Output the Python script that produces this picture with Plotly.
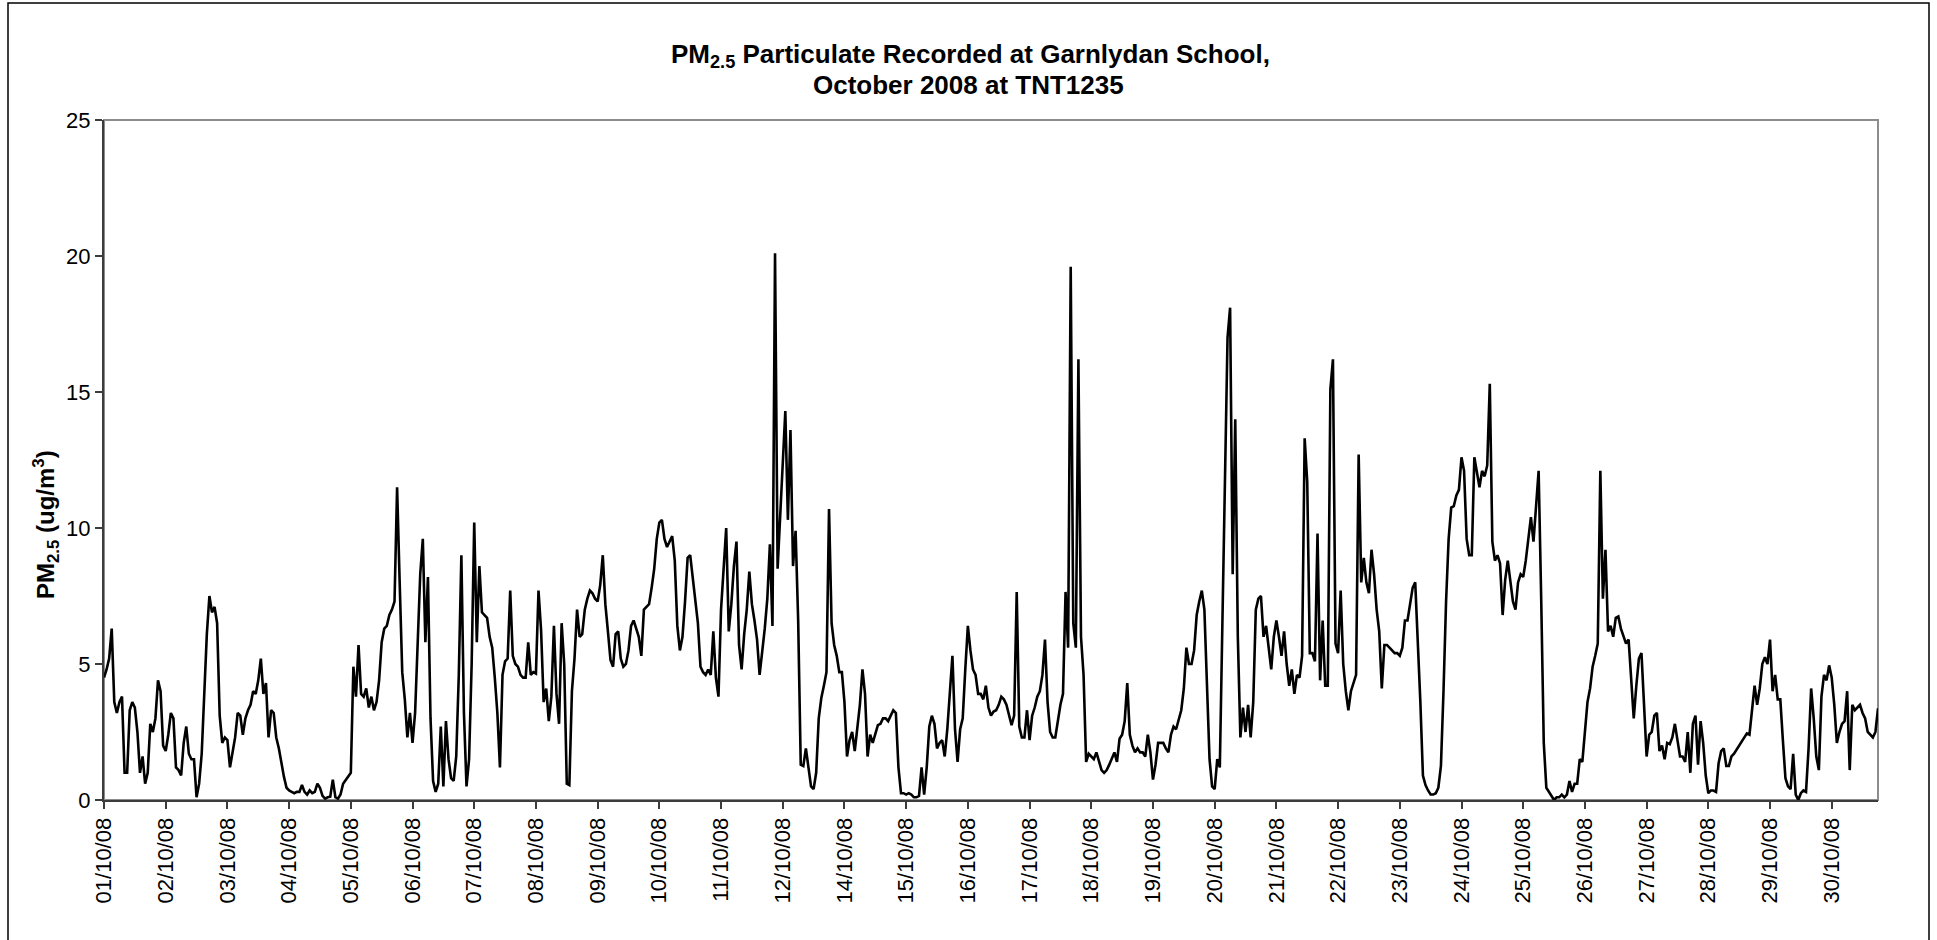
import plotly.graph_objects as go

# Daily category labels on the x axis (no record for 13/10/08)
days = ["01/10/08", "02/10/08", "03/10/08", "04/10/08", "05/10/08", "06/10/08",
        "07/10/08", "08/10/08", "09/10/08", "10/10/08", "11/10/08", "12/10/08",
        "14/10/08", "15/10/08", "16/10/08", "17/10/08", "18/10/08", "19/10/08",
        "20/10/08", "21/10/08", "22/10/08", "23/10/08", "24/10/08", "25/10/08",
        "26/10/08", "27/10/08", "28/10/08", "29/10/08", "30/10/08"]

# Hourly PM2.5 readings (ug/m3), 00:00 to 23:00 for each day
d01 = [4.5, 4.8, 5.2, 6.3, 3.6, 3.2, 3.6, 3.8, 1.0, 1.0, 3.3, 3.6, 3.4, 2.5, 1.0, 1.6, 0.6, 1.0, 2.8, 2.5, 3.0, 4.4, 4.0, 2.0]
d02 = [1.8, 2.4, 3.2, 3.0, 1.2, 1.1, 0.9, 2.1, 2.7, 1.7, 1.5, 1.5, 0.1, 0.6, 1.7, 4.0, 6.1, 7.5, 6.9, 7.1, 6.5, 3.1, 2.1, 2.3]
d03 = [2.2, 1.2, 1.7, 2.3, 3.2, 3.1, 2.4, 3.0, 3.3, 3.5, 4.0, 3.9, 4.4, 5.2, 3.9, 4.3, 2.3, 3.3, 3.2, 2.3, 1.9, 1.3, 0.85, 0.45]
d04 = [0.35, 0.3, 0.25, 0.3, 0.3, 0.55, 0.3, 0.2, 0.35, 0.25, 0.3, 0.6, 0.45, 0.15, 0.05, 0.1, 0.12, 0.75, 0.1, 0.05, 0.2, 0.6, 0.75, 0.85]
d05 = [1.0, 4.9, 3.8, 5.7, 3.9, 3.8, 4.1, 3.4, 3.8, 3.3, 3.6, 4.4, 5.8, 6.3, 6.4, 6.8, 7.0, 7.3, 11.5, 8.0, 4.7, 3.7, 2.3, 3.2]
d06 = [2.1, 3.2, 6.0, 8.3, 9.6, 5.8, 8.2, 3.0, 0.7, 0.3, 0.6, 2.7, 0.5, 2.9, 1.5, 0.8, 0.7, 1.6, 4.6, 9.0, 3.2, 0.5, 1.5, 5.0]
d07 = [10.2, 5.8, 8.6, 6.9, 6.8, 6.7, 6.0, 5.6, 4.5, 3.2, 1.2, 4.6, 5.1, 5.2, 7.7, 5.3, 5.0, 4.9, 4.6, 4.5, 4.5, 5.8, 4.6, 4.7]
d08 = [4.65, 7.7, 6.25, 3.6, 4.1, 2.9, 3.8, 6.4, 3.9, 2.8, 6.5, 5.0, 0.6, 0.55, 4.0, 5.2, 7.0, 6.0, 6.1, 7.0, 7.4, 7.7, 7.6, 7.4]
d09 = [7.3, 7.9, 9.0, 7.2, 6.2, 5.15, 4.9, 6.1, 6.2, 5.2, 4.9, 5.0, 5.5, 6.4, 6.6, 6.3, 6.0, 5.3, 7.0, 7.1, 7.2, 7.8, 8.5, 9.6]
d10 = [10.2, 10.3, 9.6, 9.3, 9.5, 9.7, 8.8, 6.4, 5.5, 6.0, 7.3, 8.9, 9.0, 8.1, 7.4, 6.5, 4.9, 4.7, 4.6, 4.8, 4.6, 6.2, 4.5, 3.8]
d11 = [7.0, 8.5, 10.0, 6.2, 7.2, 8.6, 9.5, 5.7, 4.8, 6.1, 7.0, 8.4, 7.2, 6.6, 5.9, 4.6, 5.4, 6.3, 7.4, 9.4, 6.4, 20.1, 8.5, 10.6]
d12 = [12.4, 14.3, 10.3, 13.6, 8.6, 9.9, 6.6, 1.3, 1.25, 1.9, 1.2, 0.5, 0.4, 1.0, 3.0, 3.75, 4.2, 4.7, 10.7, 6.5, 5.7, 5.3, 4.7, 4.7]
d14 = [3.6, 1.6, 2.2, 2.5, 1.8, 2.75, 3.5, 4.8, 3.9, 1.6, 2.4, 2.1, 2.4, 2.75, 2.8, 3.0, 3.0, 2.9, 3.1, 3.3, 3.2, 1.2, 0.25, 0.25]
d15 = [0.2, 0.25, 0.2, 0.1, 0.1, 0.15, 1.2, 0.2, 1.2, 2.7, 3.1, 2.8, 1.9, 2.1, 2.2, 1.6, 2.6, 4.0, 5.3, 2.6, 1.4, 2.6, 3.0, 4.8]
d16 = [6.4, 5.5, 4.8, 4.6, 3.9, 3.9, 3.7, 4.2, 3.4, 3.1, 3.25, 3.3, 3.5, 3.8, 3.7, 3.5, 3.1, 2.75, 3.1, 7.65, 2.7, 2.3, 2.3, 3.3]
d17 = [2.2, 3.1, 3.4, 3.8, 4.0, 4.6, 5.9, 3.6, 2.5, 2.3, 2.3, 3.0, 3.5, 3.9, 7.65, 5.6, 19.6, 6.5, 5.6, 16.2, 6.0, 4.6, 1.4, 1.7]
d18 = [1.6, 1.5, 1.75, 1.4, 1.1, 1.0, 1.1, 1.3, 1.5, 1.75, 1.4, 2.25, 2.4, 2.9, 4.3, 2.4, 2.0, 1.75, 1.9, 1.75, 1.75, 1.6, 2.4, 1.75]
d19 = [0.75, 1.3, 2.1, 2.1, 2.1, 1.9, 1.75, 2.4, 2.7, 2.6, 3.0, 3.3, 4.1, 5.6, 5.0, 5.0, 5.5, 6.8, 7.3, 7.7, 7.0, 3.8, 1.5, 0.5]
d20 = [0.4, 1.5, 1.2, 6.5, 12.5, 17.0, 18.1, 8.3, 14.0, 6.0, 2.3, 3.4, 2.5, 3.5, 2.3, 3.6, 7.0, 7.4, 7.5, 6.0, 6.4, 5.6, 4.8, 6.0]
d21 = [6.6, 6.0, 5.3, 6.2, 5.0, 4.2, 4.8, 3.9, 4.6, 4.5, 5.3, 13.3, 11.7, 5.4, 5.4, 5.1, 9.8, 4.4, 6.6, 4.2, 4.2, 15.1, 16.2, 5.75]
d22 = [5.4, 7.7, 5.0, 4.0, 3.3, 4.0, 4.3, 4.6, 12.7, 8.0, 8.9, 8.0, 7.6, 9.2, 8.3, 7.0, 6.2, 4.1, 5.7, 5.7, 5.6, 5.5, 5.4, 5.4]
d23 = [5.3, 5.6, 6.6, 6.6, 7.2, 7.8, 8.0, 5.9, 3.6, 0.9, 0.55, 0.35, 0.2, 0.2, 0.25, 0.45, 1.25, 4.0, 7.3, 9.6, 10.75, 10.8, 11.2, 11.4]
d24 = [12.6, 12.1, 9.6, 9.0, 9.0, 12.6, 12.0, 11.5, 12.1, 11.9, 12.3, 15.3, 9.5, 8.8, 9.0, 8.7, 6.8, 8.1, 8.8, 8.0, 7.3, 7.0, 8.0, 8.3]
d25 = [8.2, 8.8, 9.6, 10.4, 9.5, 10.7, 12.1, 7.4, 2.1, 0.45, 0.3, 0.1, 0.0, 0.1, 0.1, 0.2, 0.1, 0.2, 0.7, 0.3, 0.6, 0.6, 1.5, 1.4]
d26 = [2.6, 3.6, 4.1, 4.9, 5.3, 5.75, 12.1, 7.4, 9.2, 6.2, 6.4, 6.0, 6.7, 6.75, 6.3, 6.0, 5.75, 5.9, 4.6, 3.0, 4.2, 5.2, 5.4, 3.6]
d27 = [1.6, 2.4, 2.5, 3.1, 3.2, 1.8, 2.0, 1.5, 2.1, 2.05, 2.3, 2.8, 2.1, 1.6, 1.6, 1.4, 2.5, 1.0, 2.8, 3.1, 1.3, 2.9, 2.1, 0.9]
d28 = [0.25, 0.35, 0.35, 0.3, 1.35, 1.8, 1.9, 1.25, 1.25, 1.6, 1.7, 1.85, 1.96, 2.1, 2.3, 2.45, 2.4, 3.2, 4.2, 3.5, 4.1, 5.0, 5.25, 5.0]
d29 = [5.9, 4.0, 4.6, 3.7, 3.7, 2.2, 0.8, 0.5, 0.4, 1.7, 0.2, 0.0, 0.25, 0.35, 0.3, 1.9, 4.1, 3.0, 1.6, 1.1, 3.8, 4.6, 4.4, 4.95]
d30 = [4.5, 3.5, 2.1, 2.5, 2.8, 2.9, 4.0, 1.1, 3.5, 3.3, 3.4, 3.5, 3.2, 3.0, 2.5, 2.4, 2.3, 2.5, 3.37]

daily = [d01, d02, d03, d04, d05, d06, d07, d08, d09, d10, d11, d12, d14, d15,
         d16, d17, d18, d19, d20, d21, d22, d23, d24, d25, d26, d27, d28, d29, d30]

# One category per hourly reading
stamps, pm25 = [], []
for day, vals in zip(days, daily):
    for hour, v in enumerate(vals):
        stamps.append(f"{day} {hour:02d}:00")
        pm25.append(v)

W, H = 1937, 940
L, R, T, B = 104, 59, 120, 140
pw, ph = W - L - R, H - T - B


def px(x):
    return (x - L) / pw


def py(y):
    return (H - B - y) / ph


FONT = "Liberation Sans, Arial, sans-serif"
AXIS = "#3c3c3c"

fig = go.Figure(go.Scatter(
    x=stamps, y=pm25, mode="lines",
    line=dict(color="black", width=2.6),
    hoverinfo="skip",
))

fig.update_layout(
    width=W, height=H,
    margin=dict(l=L, r=R, t=T, b=B, pad=0),
    paper_bgcolor="white", plot_bgcolor="white",
    showlegend=False,
    font=dict(family=FONT, color="black"),
    xaxis=dict(
        type="category",
        range=[0, len(stamps) - 1],
        tickmode="array",
        tickvals=[f"{d} 00:00" for d in days],
        ticktext=days,
        tickangle=-90,
        tickfont=dict(size=22, family=FONT, color="black"),
        ticks="outside", ticklen=7, tickwidth=1.5, tickcolor=AXIS,
        showline=True, linecolor=AXIS, linewidth=2,
        showgrid=False, zeroline=False,
    ),
    yaxis=dict(
        range=[0, 25],
        tickmode="array",
        tickvals=[0, 5, 10, 15, 20, 25],
        tickfont=dict(size=22, family=FONT, color="black"),
        ticks="outside", ticklen=7, tickwidth=1.5, tickcolor=AXIS,
        showline=True, linecolor=AXIS, linewidth=2,
        showgrid=False, zeroline=False,
    ),
    shapes=[
        # plot area border
        dict(type="rect", xref="paper", yref="paper", x0=0, x1=1, y0=0, y1=1,
             line=dict(color="#8c8c8c", width=2), layer="below"),
        # chart area frame
        dict(type="rect", xref="paper", yref="paper",
             x0=px(8), x1=px(1929), y0=py(945), y1=py(3),
             line=dict(color="black", width=1.5), layer="below"),
    ],
    annotations=[
        dict(text="<b>PM<sub>2.5</sub> Particulate Recorded at Garnlydan School,</b>",
             xref="paper", yref="paper", x=px(970), y=py(56),
             xanchor="center", yanchor="middle", showarrow=False,
             font=dict(size=26, family=FONT, color="black")),
        dict(text="<b>October 2008 at TNT1235</b>",
             xref="paper", yref="paper", x=px(968), y=py(85),
             xanchor="center", yanchor="middle", showarrow=False,
             font=dict(size=26, family=FONT, color="black")),
        dict(text="<b>PM<sub>2.5</sub> (ug/m<sup>3</sup>)</b>",
             xref="paper", yref="paper", x=px(46), y=py(525),
             xanchor="center", yanchor="middle", textangle=-90, showarrow=False,
             font=dict(size=24, family=FONT, color="black")),
    ],
)

fig.write_html("out.html")
